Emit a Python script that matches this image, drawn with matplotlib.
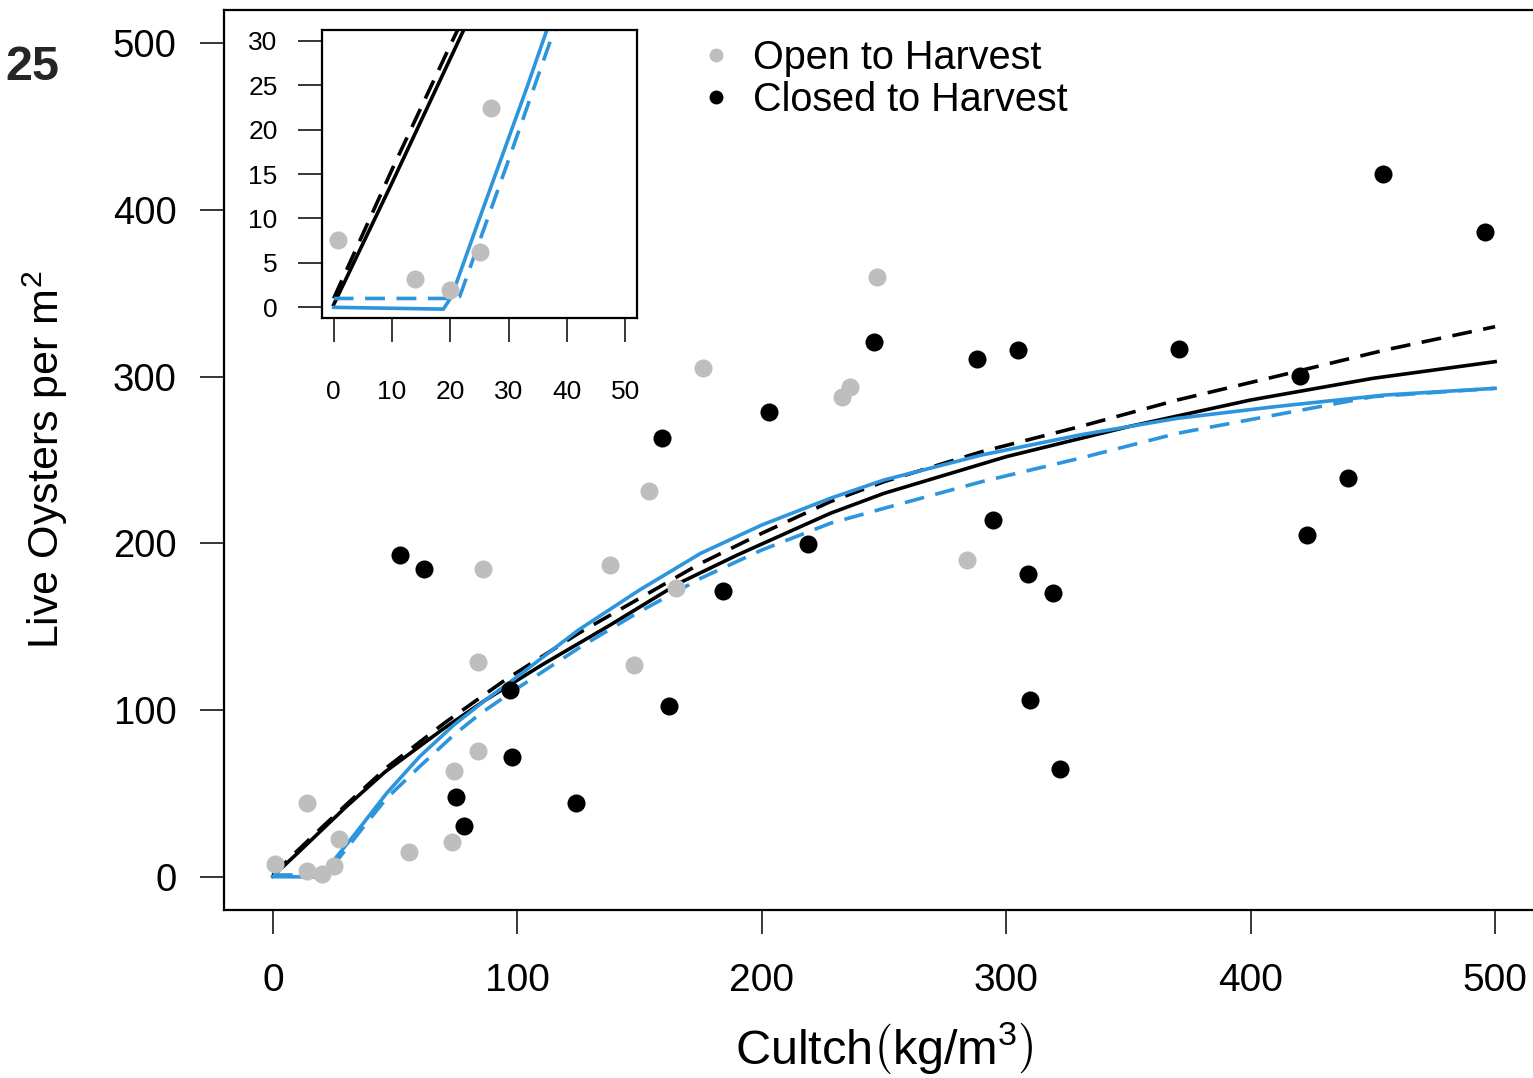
import matplotlib
matplotlib.use("Agg")
import matplotlib.pyplot as plt
from matplotlib.lines import Line2D

# sites open to harvest (gray points)
open_cultch = [0.8, 13.8, 14.0, 19.9, 25.0, 27.0, 55.8, 73.1, 74.2, 84.0, 84.0, 86.0, 137.9,
               147.8, 154.0, 164.9, 175.8, 232.9, 236.1, 247.0, 283.8]
open_oysters = [7.6, 44.2, 3.2, 1.9, 6.2, 22.4, 15.0, 20.8, 63.6, 75.2, 128.6, 184.5, 186.9,
                126.8, 231.5, 173.5, 305.3, 287.9, 293.7, 359.9, 189.8]

# sites closed to harvest (black points)
closed_cultch = [52.0, 61.9, 74.9, 78.0, 97.0, 97.9, 124.0, 159.0, 162.2, 184.0, 202.9, 218.9, 246.0,
                 287.9, 294.7, 305.0, 309.0, 309.7, 319.0, 322.0, 370.7, 420.0, 423.0, 440.0, 454.0, 495.9]
closed_oysters = [192.9, 184.9, 48.0, 30.2, 112.2, 71.6, 44.2, 263.3, 102.2, 171.2, 278.7, 199.9, 320.7,
                  310.9, 213.8, 315.9, 181.9, 106.2, 170.2, 64.8, 316.3, 300.3, 205.3, 238.9, 421.4, 386.7]

# fitted curves
black_solid_x = [0, 10, 20, 30, 46, 70, 87, 110, 138, 166, 190, 228, 250, 300, 350, 400, 450, 500]
black_solid_y = [0.3, 14, 28, 42, 63, 89, 106, 127, 151, 176, 193, 218, 230, 252, 270, 286, 299, 309]

black_dash_x = [0, 10, 20, 35, 47, 70, 95, 125, 150, 175, 200, 228, 250, 290, 330, 370, 410, 455, 500]
black_dash_y = [1, 15.5, 29.5, 50, 66, 92, 118, 146, 167, 188, 206, 225, 237, 255, 270, 286, 300, 316, 330]

blue_solid_x = [0, 18.8, 20.2, 25, 33, 46.5, 60, 74, 87, 100, 125, 150, 175, 200, 228, 250, 290, 330,
                370, 410, 455, 500]
blue_solid_y = [0, -0.2, 1.2, 10, 24.5, 50, 72, 91, 106, 120, 148, 172, 194, 211, 227, 238, 253, 265,
                275, 282, 289, 293]

blue_dash_x = [0, 21, 21.6, 30, 37.7, 46.5, 60, 74, 85, 101, 126, 150, 175, 200, 228, 250, 290, 330,
               370, 410, 450, 480, 500]
blue_dash_y = [1, 1, 1.2, 16.6, 31, 47, 66, 85, 98, 114, 138, 159, 179, 196, 212, 221, 237, 251,
               266, 277, 288, 291, 293]

gray = '#bebebe'
blue = '#2d95dd'

plt.rcParams['font.family'] = 'Liberation Sans'
plt.rcParams['mathtext.fontset'] = 'custom'
plt.rcParams['mathtext.rm'] = 'Liberation Sans'
plt.rcParams['mathtext.it'] = 'Liberation Sans:italic'
plt.rcParams['mathtext.bf'] = 'Liberation Sans:bold'


def draw_panel(ax):
    # curves first, points on top
    ax.plot(black_solid_x, black_solid_y, color='black', lw=2.6, zorder=2)
    ax.plot(black_dash_x, black_dash_y, color='black', lw=2.6, dashes=(5.5, 3.2), zorder=2)
    ax.plot(blue_solid_x, blue_solid_y, color=blue, lw=2.6, zorder=2)
    ax.plot(blue_dash_x, blue_dash_y, color=blue, lw=2.6, dashes=(5.5, 3.2), zorder=2)
    ax.plot(open_cultch, open_oysters, 'o', color=gray, ms=13, mew=0, zorder=3)
    ax.plot(closed_cultch, closed_oysters, 'o', color='black', ms=13, mew=0, zorder=3)
    for s in ax.spines.values():
        s.set_linewidth(1.6)


fig = plt.figure(figsize=(15.33, 10.78), dpi=100)

# main plot (right edge of the box falls just outside the picture)
ax = fig.add_axes([224 / 1533, 1 - 910 / 1078, 1320 / 1533, 900 / 1078])
draw_panel(ax)
ax.set_xlim(-20, 520)
ax.set_ylim(-20, 520)
ax.set_xticks([0, 100, 200, 300, 400, 500])
ax.set_yticks([0, 100, 200, 300, 400, 500])
ax.tick_params(axis='both', direction='out', length=17, width=1.1)
ax.tick_params(axis='x', labelsize=28, pad=21)
ax.tick_params(axis='y', labelsize=27.5, pad=17)

fig.text(884 / 1533, 1 - 1048 / 1078, r'Cultch$\left(\mathrm{kg/m^{3}}\right)$', fontsize=35,
         ha='center', va='center')
fig.text(45 / 1533, 1 - 460 / 1078, r'Live Oysters per m$^{2}$', fontsize=31, rotation=90,
         ha='center', va='center', family=['Liberation Sans Narrow', 'Liberation Sans'])
fig.text(32 / 1533, 1 - 68 / 1078, '25', fontsize=35, weight='bold', color='#262626',
         ha='center', va='center')

# legend
handles = [Line2D([], [], ls='', marker='o', color=gray, ms=10, mew=0),
           Line2D([], [], ls='', marker='o', color='black', ms=10, mew=0)]
ax.legend(handles, ['Open to Harvest', 'Closed to Harvest'], loc='upper left', frameon=False,
          fontsize=28.5, handlelength=1.0, handletextpad=0.43, labelspacing=0.1,
          borderpad=0, borderaxespad=0,
          bbox_to_anchor=(696 / 1533, 1 - 39 / 1078), bbox_transform=fig.transFigure)

# inset zoom on the origin
axin = fig.add_axes([322 / 1533, 1 - 318 / 1078, 315 / 1533, 288 / 1078])
draw_panel(axin)
axin.set_xlim(-2, 52)
axin.set_ylim(-1.2, 31.2)
axin.set_xticks([0, 10, 20, 30, 40, 50])
axin.set_yticks([0, 5, 10, 15, 20, 25, 30])
axin.tick_params(axis='both', direction='out', length=17, width=1.1, labelsize=19)
axin.tick_params(axis='x', pad=28)
axin.tick_params(axis='y', pad=15)

plt.savefig('out.png', dpi=100)
